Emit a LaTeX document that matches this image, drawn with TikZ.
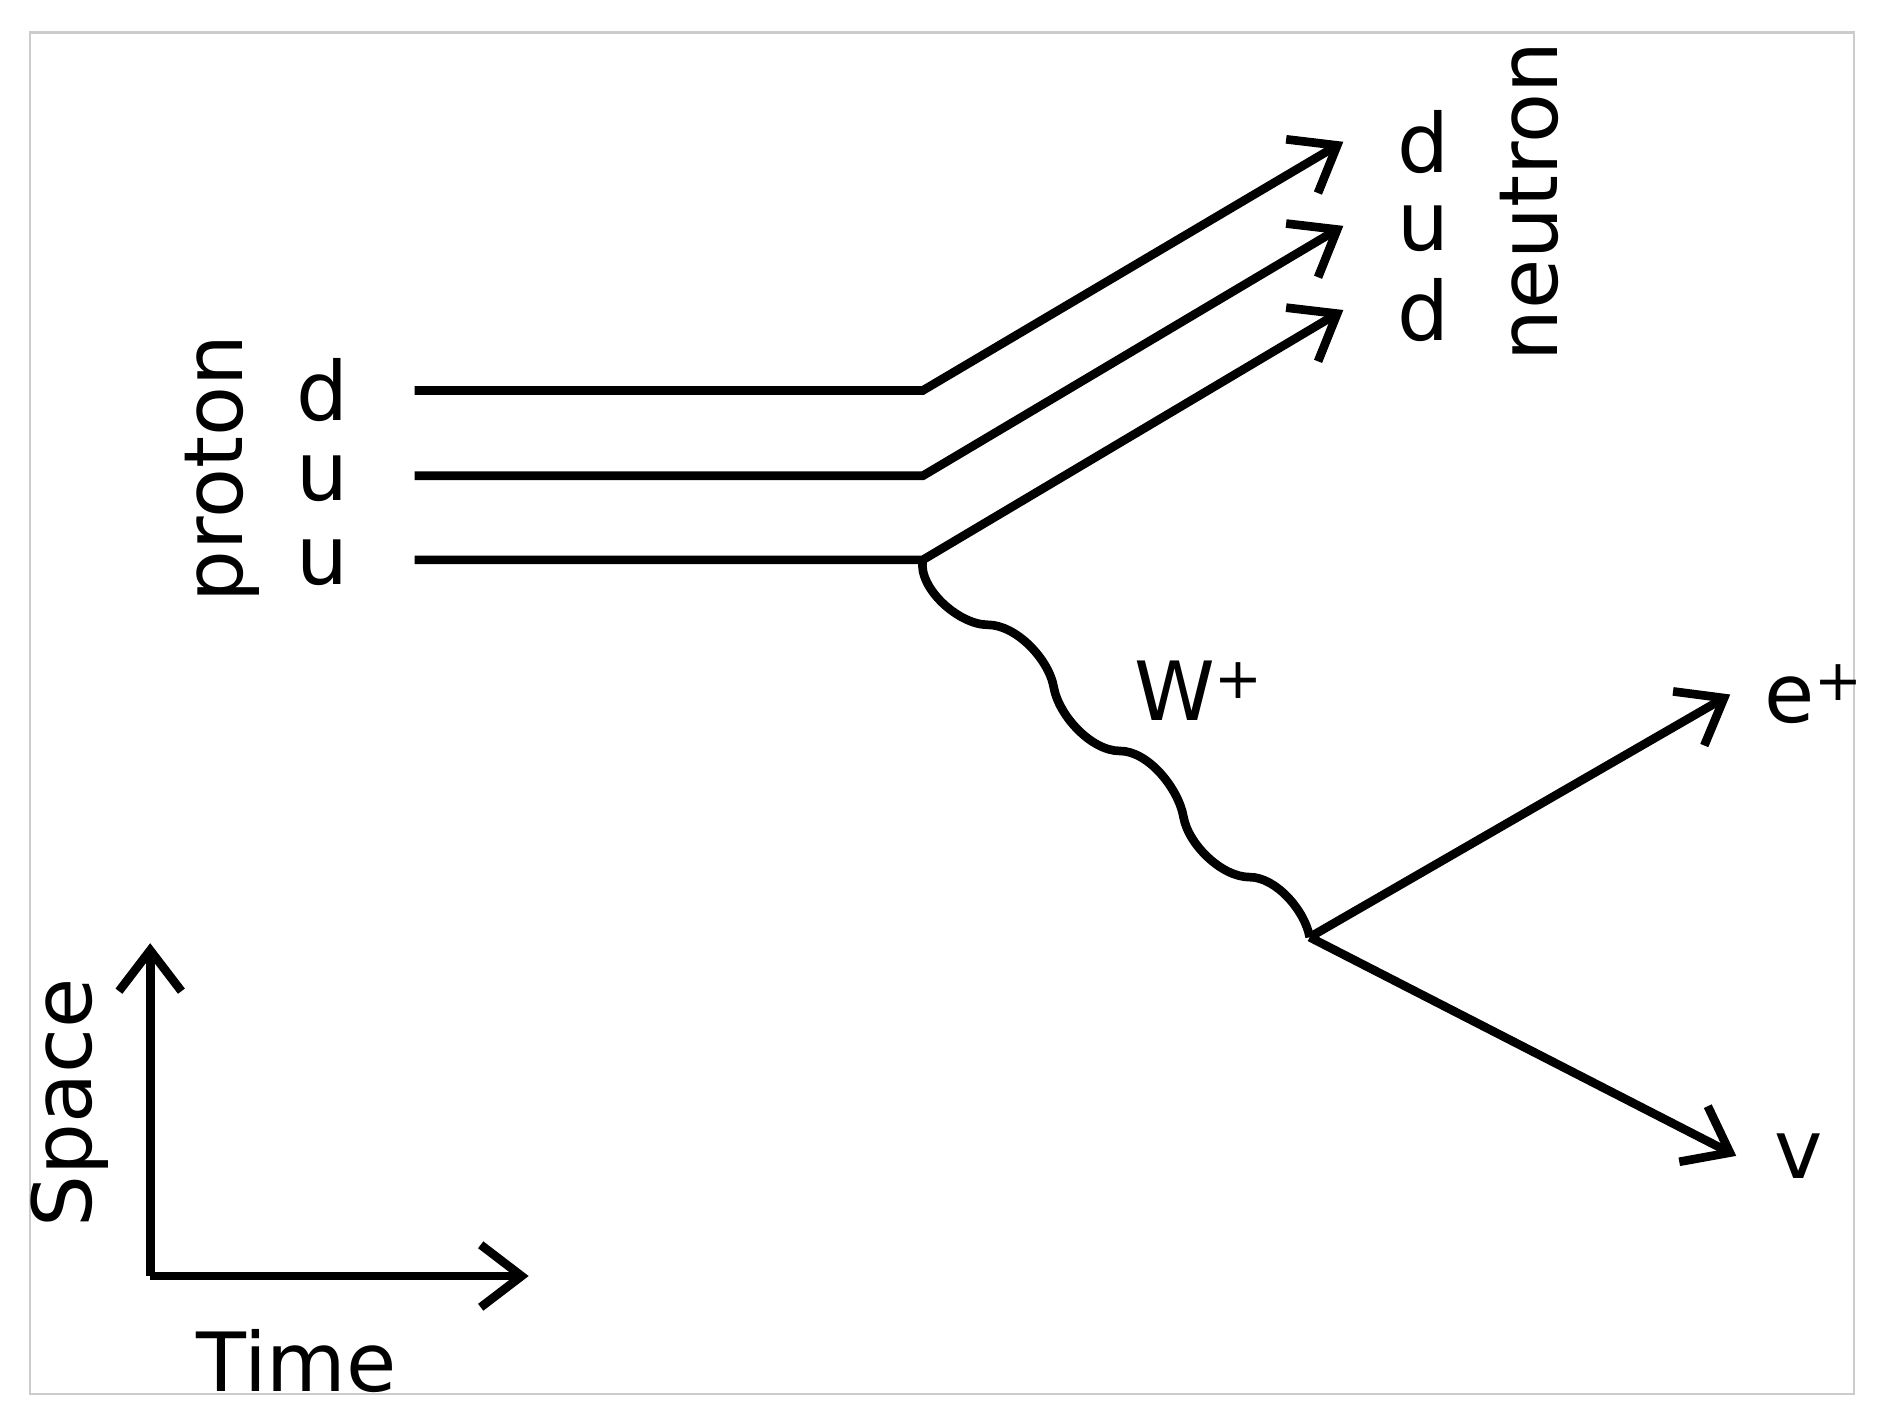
\documentclass[tikz,border=0pt]{standalone}
\usepackage{fontspec}
\setmainfont{DejaVu Sans}
\usetikzlibrary{arrows.meta}
\begin{document}
\begin{tikzpicture}[x=0.5pt,y=-0.5pt,
  ln/.style={line width=3.6pt, line join=miter},
  ar/.style={ln,-{Straight Barb[length=17pt,width=26pt,line width=3.6pt]}},
  lbl/.style={font=\fontsize{34}{40}\selectfont, inner sep=0pt}]
\useasboundingbox (0,0) rectangle (1568,1187);
\draw[black!20, line width=1pt] (25,27) rectangle (1543,1160);
% quark lines
\coordinate (a1) at (345,325); \coordinate (b1) at (768,325); \coordinate (c1) at (1118,118);
\coordinate (a2) at (345,396); \coordinate (b2) at (768,396); \coordinate (c2) at (1118,188);
\coordinate (a3) at (345,466); \coordinate (v1) at (768,466); \coordinate (c3) at (1118,258);
\draw[ar] (a1) -- (b1) -- (c1);
\draw[ar] (a2) -- (b2) -- (c2);
\draw[ar] (a3) -- (v1) -- (c3);
% W boson
\coordinate (v2) at (1090,780);
\draw[ln] (v1) to[out=-100,in=180,looseness=0.8] (822,520) to[out=0,in=100,looseness=0.8] (877,572)
  to[out=-80,in=180,looseness=0.8] (932,625) to[out=0,in=100,looseness=0.8] (985,680)
  to[out=-80,in=180,looseness=0.8] (1040,730) to[out=0,in=100,looseness=0.8] (v2);
\coordinate (e) at (1440,578); \coordinate (n) at (1445,962);
\draw[ar] (v2) -- (e);
\draw[ar] (v2) -- (n);
% labels
\node[lbl, rotate=90] (proton) at (185,390) {proton};
\node[lbl] (pd) at (268,325) {d};
\node[lbl] (pu1) at (268,398) {u};
\node[lbl] (pu2) at (268,468) {u};
\node[lbl, rotate=90] (neutron) at (1273,168) {neutron};
\node[lbl] (nd1) at (1185,118) {d};
\node[lbl] (nu) at (1185,190) {u};
\node[lbl] (nd2) at (1185,258) {d};
\node[lbl] (W) at (998,575) {W\textsuperscript{+}};
\node[lbl] (ep) at (1510,578) {e\textsuperscript{+}};
\node[lbl] (nul) at (1497,962) {v};
% axes
\coordinate (o) at (125,1062); \coordinate (up) at (125,785); \coordinate (rt) at (440,1062);
\draw[ar] (o) -- (up);
\draw[ar] (o) -- (rt);
\node[lbl, rotate=90] (space) at (58,918) {Space};
\node[lbl] (time) at (247,1133) {Time};
\end{tikzpicture}
\end{document}
